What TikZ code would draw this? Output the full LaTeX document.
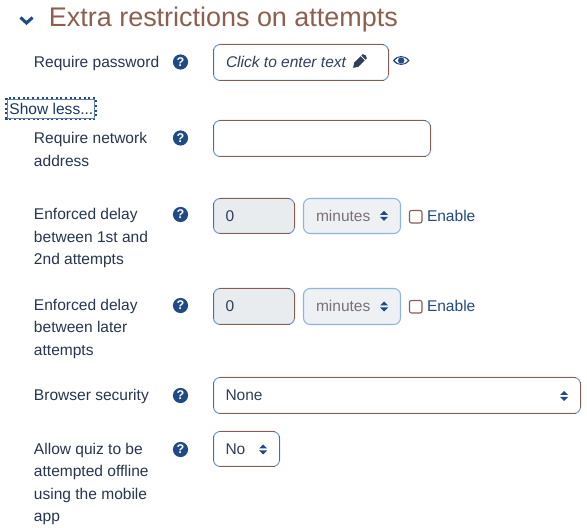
\documentclass[tikz,border=0pt]{standalone}
\usepackage{fontspec}
\setmainfont{Liberation Sans}
\definecolor{headc}{HTML}{8F5F4E}
\definecolor{labelc}{HTML}{26364F}
\definecolor{navy}{HTML}{1F4A85}
\definecolor{brownb}{HTML}{8C5A50}
\definecolor{blueb}{HTML}{6F9CC6}
\definecolor{paleb}{HTML}{8DB6DC}
\definecolor{disfill}{HTML}{E8ECEF}
\definecolor{dissel}{HTML}{EEF1F3}
\definecolor{valc}{HTML}{2F3F58}
\definecolor{mutc}{HTML}{7A6F78}
\tikzset{
  txt/.style={anchor=base west,inner sep=0pt,outer sep=0pt,text=labelc,font=\fontsize{11.65pt}{13pt}\selectfont},
  headtxt/.style={anchor=base west,inner sep=0pt,outer sep=0pt,text=headc,font=\fontsize{20.2pt}{24pt}\selectfont},
  valtxt/.style={txt,text=valc},
  muted/.style={txt,text=mutc},
  enab/.style={txt,text=navy},
  helpdot/.style={circle,fill=navy,minimum size=11.4pt,inner sep=0pt,text=white,font=\bfseries\fontsize{9.5pt}{10pt}\selectfont},
  boxline/.style={draw=blueb,line width=0.75pt,rounded corners=5pt},
  sideline/.style={draw=brownb,line width=0.8pt},
  disbox/.style={draw=paleb,fill=dissel,line width=0.8pt,rounded corners=5pt},
  spin/.style={fill=navy,draw=none},
}
% x1 y1 x2 y2 fill
\newcommand{\uibox}[5]{%
  \path[boxline,fill=#5] (#1,#2) rectangle (#3,#4);
  \draw[sideline] (#1+5,#2) -- (#3-5,#2);
  \draw[sideline] (#1+5,#4) -- (#3-5,#4);
  \draw[sideline] (#1,#2+5) -- (#1,#4-5);
  \draw[sideline] (#3,#2+5) -- (#3,#4-5);
}
\newcommand{\spinner}[2]{%
  \fill[spin] (#1-4,#2-1) -- (#1,#2-5) -- (#1+4,#2-1) -- cycle;
  \fill[spin] (#1-4,#2+1) -- (#1,#2+5) -- (#1+4,#2+1) -- cycle;
}
\begin{document}
\begin{tikzpicture}[x=0.75pt,y=-0.75pt]
\useasboundingbox (0,0) rectangle (587,528);
\fill[white] (0,0) rectangle (587,528);

% heading
\draw[navy,line width=2.3pt] (20.5,17.5) -- (26.5,23) -- (32.5,17.5);
\node[headtxt] (head) at (49,27) {Extra restrictions on attempts};

% password row
\node[txt] (l1) at (34,68) {Require password};
\node[helpdot] (h1) at (180.5,62) {?};
\uibox{213.5}{44.5}{388.5}{80.5}{white}
\node[valtxt,font=\itshape\fontsize{11.65pt}{13pt}\selectfont] (pw) at (226,67.5) {Click to enter text};
% pencil
\begin{scope}[shift={(359.5,61.5)},rotate=45]
  \fill[valc] (-4.5,-3) -- (4.5,-3) -- (4.5,3) -- (-4.5,3) -- (-9,0) -- cycle;
  \fill[valc] (5.5,-3) -- (7.5,-3) to[bend left=40] (7.5,3) -- (5.5,3) -- cycle;
\end{scope}
% eye
\fill[navy] (393,60.5) .. controls (397,54.5) and (405,54.5) .. (409.5,60.5) .. controls (405,66.5) and (397,66.5) .. (393,60.5) -- cycle;
\fill[white] (394.8,60.5) .. controls (398,56) and (404.5,56) .. (407.7,60.5) .. controls (404.5,65) and (398,65) .. (394.8,60.5) -- cycle;
\fill[navy] (401.2,60.5) circle (3.2);

% show less
\draw[navy,line width=1.5pt,dotted] (6.5,98.5) rectangle (95.5,119);
\draw[navy!70,line width=0.5pt] (7.5,99.5) rectangle (94.5,118);
\node[txt,text=navy!75!black] (sl) at (9.5,114.5) {Show less...};

% network row
\node[txt] (l2a) at (34,144) {Require network};
\node[txt] (l2b) at (34,167) {address};
\node[helpdot] (h2) at (180.5,138) {?};
\uibox{213.5}{120.5}{430.5}{156.5}{white}

% delay 1
\node[txt] (l3a) at (34,220) {Enforced delay};
\node[txt] (l3b) at (34,242.5) {between 1st and};
\node[txt] (l3c) at (34,265) {2nd attempts};
\node[helpdot] (h3) at (180.5,214.5) {?};
\uibox{213.5}{198.5}{294.5}{233.5}{disfill}
\node[valtxt] (v3) at (225.5,222) {0};
\path[disbox] (303.5,198.5) rectangle (400.5,233.5);
\node[muted] (m3) at (316,222) {minutes};
\spinner{384}{216}
\draw[brownb,line width=0.8pt,rounded corners=1.5pt,fill=white] (409.5,210.5) rectangle (422,223);
\node[enab] (e3) at (427,221.5) {Enable};

% delay 2
\node[txt] (l4a) at (34,311) {Enforced delay};
\node[txt] (l4b) at (34,333) {between later};
\node[txt] (l4c) at (34,356) {attempts};
\node[helpdot] (h4) at (180.5,305.5) {?};
\uibox{213.5}{288.5}{294.5}{324.5}{disfill}
\node[valtxt] (v4) at (225.5,312) {0};
\path[disbox] (303.5,288.5) rectangle (400.5,324.5);
\node[muted] (m4) at (316,312) {minutes};
\spinner{384}{306.5}
\draw[brownb,line width=0.8pt,rounded corners=1.5pt,fill=white] (409.5,300.5) rectangle (422,313);
\node[enab] (e4) at (427,311.5) {Enable};

% browser security
\node[txt] (l5) at (34,400.5) {Browser security};
\node[helpdot] (h5) at (180.5,395.5) {?};
\uibox{213.5}{377.5}{580.5}{413.5}{white}
\node[valtxt] (v5) at (225.5,400.5) {None};
\spinner{564}{396}

% offline
\node[txt] (l6a) at (34,454.5) {Allow quiz to be};
\node[txt] (l6b) at (34,476.5) {attempted offline};
\node[txt] (l6c) at (34,499.5) {using the mobile};
\node[txt] (l6d) at (34,522) {app};
\node[helpdot] (h6) at (180.5,449.5) {?};
\uibox{213.5}{431.5}{279.5}{466.5}{white}
\node[valtxt] (v6) at (225.5,454.5) {No};
\spinner{263}{449.5}
\end{tikzpicture}
\end{document}
